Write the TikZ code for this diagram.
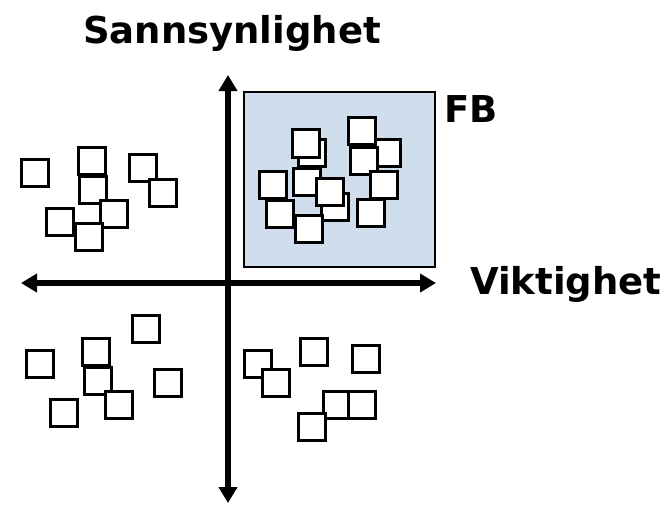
\documentclass[tikz,border=0pt]{standalone}
\usepackage{fontspec}
\setmainfont{DejaVu Sans}
\usetikzlibrary{arrows.meta}
\definecolor{fbblue}{RGB}{207,221,236}
\begin{document}
\begin{tikzpicture}
  [x=1pt,y=-1pt,every node/.style={inner sep=0pt,outer sep=0pt}]
  \tikzstyle{lapp} = [draw,fill=white,line width=3.2pt,minimum size=27.5pt]
  \tikzstyle{akse} = [line width=5.5pt,{Triangle[length=16pt,width=18pt]}-{Triangle[length=16pt,width=18pt]}]
  \tikzstyle{tittel} = [font=\bfseries\fontsize{37}{40}\selectfont]
  \useasboundingbox (0,0) rectangle (668,504);

  \node[draw,fill=fbblue,line width=2pt,minimum width=191pt,minimum height=175pt] (fb) at (339.5,179.5) {};

  \coordinate (venstre) at (21,283);
  \coordinate (hoyre) at (436,283);
  \coordinate (topp) at (228,75);
  \coordinate (bunn) at (228,503);
  \draw[akse] (venstre) -- (hoyre);
  \draw[akse] (topp) -- (bunn);

  % lapper oppe til venstre
  \foreach \i/\x/\y in {1/35/173,2/92/161,3/93/190,4/143/168,5/163/193,6/114/214,7/60/222,8/89/237}
    \node[lapp] (ov\i) at (\x,\y) {};
  % lapper nede til venstre
  \foreach \i/\x/\y in {1/40/364,2/96/352,3/98/381,4/146/329,5/168/383,6/64/413,7/119/405}
    \node[lapp] (nv\i) at (\x,\y) {};
  % lapper nede til hoyre
  \foreach \i/\x/\y in {1/258/364,2/276/383,3/314/352,4/366/359,5/337/405,6/362/405,7/312/427}
    \node[lapp] (nh\i) at (\x,\y) {};
  % lapper i FB
  \foreach \i/\x/\y in {1/307/182,2/312/153,3/306/143.5,4/273/185,5/280/214,6/335/207,7/330/192,8/309/229,
                        9/387/153,10/364/161,11/362/131,12/384/185,13/371/213}
    \node[lapp] (fb\i) at (\x,\y) {};

  \node[tittel,anchor=base] (sann) at (232,43) {Sannsynlighet};
  \node[tittel,anchor=base west] (vikt) at (470,294) {Viktighet};
  \node[tittel,anchor=base west] (fbtekst) at (444,122) {FB};

\end{tikzpicture}
\end{document}
